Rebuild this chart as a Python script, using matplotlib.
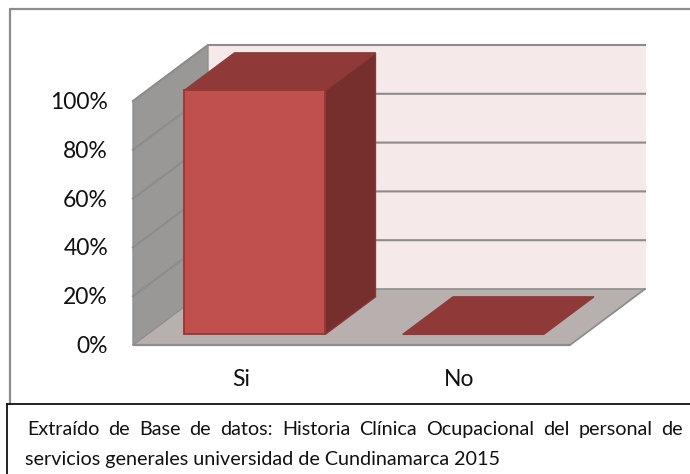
import matplotlib
matplotlib.use("Agg")
import matplotlib.pyplot as plt
from matplotlib.patches import Polygon

plt.rcParams['font.family'] = ['Lato', 'DejaVu Sans']

categorias = ["Si", "No"]
valores = [100, 0]
ticks = [0, 20, 40, 60, 80, 100]
etiquetas = ["0%", "20%", "40%", "60%", "80%", "100%"]
linea1 = "Extraído de Base de datos: Historia Clínica Ocupacional del personal de"
linea2 = "servicios generales universidad de Cundinamarca 2015"

# oblique projection of the 3d chart, everything in pixels of the picture
X0, Y0 = 133, 345
ANCHO = 437
ALTO = 244
DX, DY = 75, -56
ANCHO_BARRA = 0.645
D1, D2 = 0.19, 0.86


def proy(x, v, d):
    # x in category units, v in percent, d depth from 0 to 1
    return (X0 + x * ANCHO / len(categorias) + d * DX,
            Y0 - v / 100 * ALTO + d * DY)


def cara(ax, puntos, color, borde=None, lw=1.0, z=1):
    ax.add_patch(Polygon(puntos, closed=True, facecolor=color,
                         edgecolor=borde if borde else color, linewidth=lw, zorder=z))


fig = plt.figure(figsize=(6.9, 4.74), dpi=100)
ax = fig.add_axes([0, 0, 1, 1])
ax.set_xlim(0, 690)
ax.set_ylim(474, 0)
ax.axis("off")

# frame of the chart and of the caption
ax.plot([10, 10, 690], [404, 8.5, 8.5], color="#8c8c8c", lw=1.6, zorder=0)
ax.plot([7, 690], [404, 404], color="#111111", lw=1.3, zorder=6)
ax.plot([7, 7], [404, 474], color="#111111", lw=1.3, zorder=6)

n = len(categorias)
tope = max(ticks)

# back wall, side wall, floor
cara(ax, [proy(0, 0, 1), proy(n, 0, 1), proy(n, tope, 1), proy(0, tope, 1)], "#f5e9e9", z=1)
cara(ax, [proy(0, 0, 0), proy(0, 0, 1), proy(0, tope, 1), proy(0, tope, 0)], "#9a9797", "#8f8f8f", 1.0, z=2)
cara(ax, [proy(0, 0, 0), proy(n, 0, 0), proy(n, 0, 1), proy(0, 0, 1)], "#b8afaf", z=2)

for t in ticks:
    a, b, c = proy(0, t, 0), proy(0, t, 1), proy(n, t, 1)
    if t == 0:
        ax.plot([a[0], c[0] - DX], [a[1], a[1]], color="#8c8c8c", lw=1.6, zorder=3, solid_capstyle="butt")
        ax.plot([c[0] - DX, c[0]], [a[1], c[1]], color="#8c8c8c", lw=1.2, zorder=3)
    ax.plot([a[0], b[0], c[0]], [a[1], b[1], c[1]], color="#8c8c8c", lw=1.5 if t else 1.0, zorder=3)
    ax.text(a[0] - 25, a[1] + 1.5, etiquetas[ticks.index(t)], ha="right", va="center",
            fontsize=16.5, color="#111111", zorder=5)

for i, (cat, v) in enumerate(zip(categorias, valores)):
    x1 = i + 0.5 - ANCHO_BARRA / 2 - 0.008
    x2 = x1 + ANCHO_BARRA
    if v > 0:
        cara(ax, [proy(x1, 0, D1), proy(x2, 0, D1), proy(x2, v, D1), proy(x1, v, D1)], "#c0504d", "#953735", 1.3, z=5)
        cara(ax, [proy(x2, 0, D1), proy(x2, 0, D2), proy(x2, v, D2), proy(x2, v, D1)], "#772f2e", "#8a3634", 1.0, z=4)
    cara(ax, [proy(x1, v, D1), proy(x2, v, D1), proy(x2, v, D2), proy(x1, v, D2)], "#8f3a38", "#8f3a38", 1.0, z=4)
    base = proy(i + 0.5, 0, 0)
    ax.text(base[0] - 1.5, 379.5, cat, ha="center", va="center", fontsize=16.5, color="#111111")

# justified first line of the caption, word by word
fig.canvas.draw()
rend = fig.canvas.get_renderer()
palabras = linea1.split(" ")
textos = [ax.text(27, 435, p, ha="left", va="baseline", fontsize=14.2, color="#111111", zorder=7) for p in palabras]
anchos = [t.get_window_extent(rend).width for t in textos]
hueco = (683 - 27 - sum(anchos)) / (len(palabras) - 1)
pos = 27
for t, w in zip(textos, anchos):
    t.set_x(pos)
    pos += w + hueco
ax.text(25, 464.5, linea2, ha="left", va="baseline", fontsize=14.2, color="#111111", zorder=7)

fig.savefig("out.png", dpi=100)
